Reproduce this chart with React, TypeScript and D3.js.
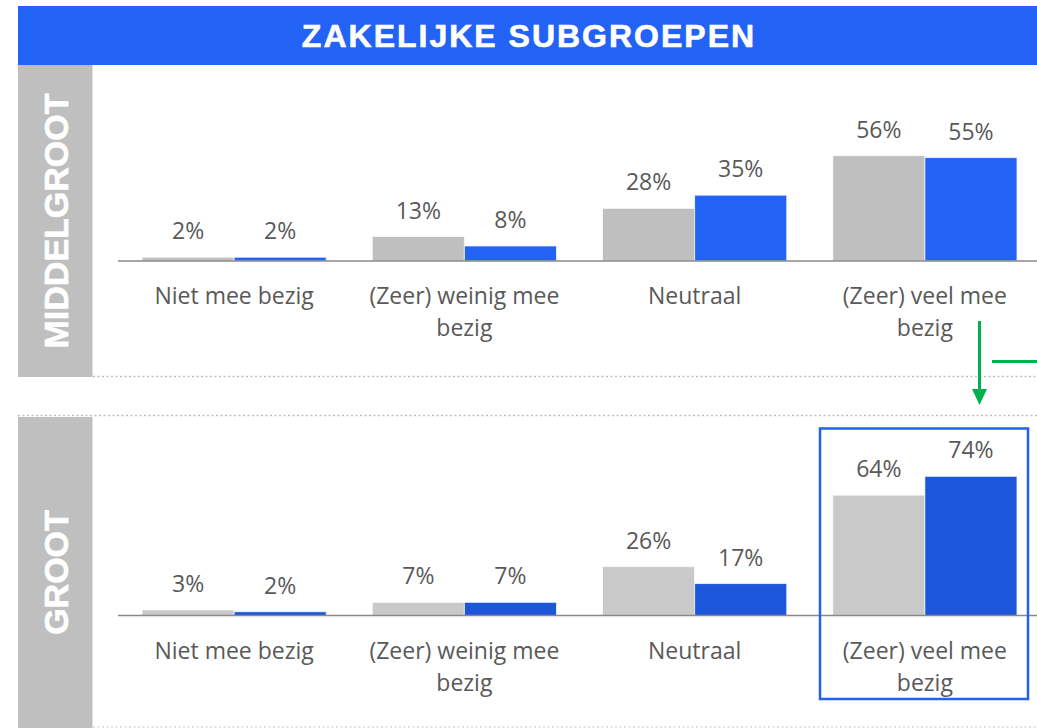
import * as d3 from 'd3';

// categories (with line breaks as in the slide)
const categories = ['Niet mee bezig', '(Zeer) weinig mee bezig', 'Neutraal', '(Zeer) veel mee bezig'];
const categoryLines = [['Niet mee bezig'], ['(Zeer) weinig mee', 'bezig'], ['Neutraal'], ['(Zeer) veel mee', 'bezig']];
const seriesKeys = ['vorig', 'nu'];

// MIDDELGROOT
const middelgrootVorig = [2, 13, 28, 56];
const middelgrootNu = [2, 8, 35, 55];
// GROOT
const grootVorig = [3, 7, 26, 64];
const grootNu = [2, 7, 17, 74];

const W = 1037;
const H = 728;
const LABEL_FONT = '"Open Sans", "Noto Sans", sans-serif';
const TEXT_GREY = '#595959';

type PanelProps = {
  title: string;
  top: number;
  bottom: number;
  baseline: number;
  vorig: number[];
  nu: number[];
  grey: string;
  blue: string;
};

function Panel({ title, top, bottom, baseline, vorig, nu, grey, blue }: PanelProps) {
  const x0 = d3.scaleBand<string>().domain(categories).range([119, 1040]).paddingInner(0.2).paddingOuter(0.1);
  const x1 = d3.scaleBand<string>().domain(seriesKeys).range([0, x0.bandwidth()]);
  const y = d3.scaleLinear().domain([0, 100]).range([baseline, baseline - 188]);
  const colours = [grey, blue];

  return (
    <g>
      {/* side label */}
      <rect x={18} y={top} width={74.5} height={bottom - top} fill="#BFBFBF" />
      <text
        transform={`translate(${56},${(top + bottom) / 2}) rotate(-90)`}
        textAnchor="middle"
        dominantBaseline="central"
        fill="#fff"
        fontFamily="Liberation Sans, Arial, sans-serif"
        fontWeight={700}
        fontSize={34}
        stroke="#fff"
        strokeWidth={0.6}
      >
        {title}
      </text>

      {categories.map((c, i) => (
        <g key={c} transform={`translate(${x0(c)},0)`}>
          {[vorig[i], nu[i]].map((v, j) => {
            const bx = x1(seriesKeys[j]) as number;
            return (
              <g key={j}>
                <rect
                  x={bx}
                  y={y(v)}
                  width={x1.bandwidth()}
                  height={baseline - y(v)}
                  fill={colours[j]}
                  stroke="rgba(255,255,255,0.7)"
                  strokeWidth={1}
                />
                <text
                  x={bx + x1.bandwidth() / 2}
                  y={y(v) - 18}
                  textAnchor="middle"
                  fill={TEXT_GREY}
                  fontFamily={LABEL_FONT}
                  fontSize={23}
                >
                  {`${v}%`}
                </text>
              </g>
            );
          })}
          <text
            x={x0.bandwidth() / 2}
            y={baseline + 43}
            textAnchor="middle"
            fill={TEXT_GREY}
            fontFamily={LABEL_FONT}
            fontSize={23}
          >
            {categoryLines[i].map((ln, k) => (
              <tspan key={k} x={x0.bandwidth() / 2} dy={k === 0 ? 0 : 32}>
                {ln}
              </tspan>
            ))}
          </text>
        </g>
      ))}

      {/* axis line */}
      <line x1={118} x2={W} y1={baseline} y2={baseline} stroke="#898989" strokeWidth={1.5} />
    </g>
  );
}

export default function App() {
  return (
    <svg
      width={W}
      height={H}
      style={{ position: 'absolute', left: 0, top: 0, background: '#fff' }}
    >
      {/* title bar */}
      <rect x={18} y={6} width={W - 18} height={59} fill="#2263F6" />
      <text
        x={529}
        y={35.5}
        textAnchor="middle"
        dominantBaseline="central"
        fill="#fff"
        fontFamily="Liberation Sans, Arial, sans-serif"
        fontWeight={700}
        fontSize={32}
        letterSpacing={2}
        stroke="#fff"
        strokeWidth={0.6}
      >
        ZAKELIJKE SUBGROEPEN
      </text>

      <Panel
        title="MIDDELGROOT"
        top={65}
        bottom={377}
        baseline={261}
        vorig={middelgrootVorig}
        nu={middelgrootNu}
        grey="#BFBFBF"
        blue="#2263F6"
      />
      <Panel
        title="GROOT"
        top={417}
        bottom={H}
        baseline={615.5}
        vorig={grootVorig}
        nu={grootNu}
        grey="#C9C9C9"
        blue="#1C56DA"
      />

      {/* dotted separators */}
      <line x1={93} x2={W} y1={376.5} y2={376.5} stroke="#BFBFBF" strokeWidth={1.5} strokeDasharray="2,2.5" />
      <line x1={18} x2={W} y1={415.5} y2={415.5} stroke="#BFBFBF" strokeWidth={1.5} strokeDasharray="2,2.5" />
      <line x1={93} x2={W} y1={727} y2={727} stroke="#D9D9D9" strokeWidth={1.5} strokeDasharray="2,2.5" />

      {/* green arrow */}
      <line x1={979.5} x2={979.5} y1={321} y2={392} stroke="#00B050" strokeWidth={3} />
      <polygon points="972,389 987,389 979.5,405" fill="#00B050" />
      <line x1={992} x2={W} y1={361.5} y2={361.5} stroke="#00B050" strokeWidth={3} />

      {/* highlight box */}
      <rect x={820} y={428.5} width={208} height={270.5} fill="none" stroke="#2263F6" strokeWidth={2.5} />
    </svg>
  );
}
